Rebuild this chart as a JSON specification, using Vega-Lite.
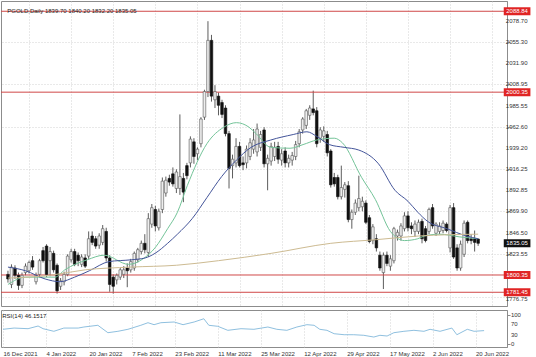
{
"$schema": "https://vega.github.io/schema/vega-lite/v6.json",
"padding": 0,
"background": "white",
"spacing": 2,
"config": {
 "font": "Liberation Sans",
 "view": {"stroke": "#8c8c8c", "strokeWidth": 1},
 "axis": {"labelFont": "Liberation Sans", "labelFontSize": 6, "labelColor": "#333333", "gridColor": "#c6c6c6", "gridDash": [1, 2], "gridWidth": 0.8, "domainColor": "#8c8c8c", "tickColor": "#8c8c8c", "title": null, "zindex": 0, "labelOverlap": false}
},
"datasets": {
 "bars": [
{"i":0,"o":1801,"h":1805,"l":1792,"c":1796},{"i":1,"o":1790,"h":1812,"l":1786,"c":1809},{"i":2,"o":1808,"h":1811,"l":1796,"c":1800},{"i":3,"o":1800,"h":1803,"l":1784,"c":1789},{"i":4,"o":1789,"h":1803,"l":1786,"c":1800},
{"i":5,"o":1803,"h":1813,"l":1800,"c":1810},{"i":6,"o":1805,"h":1816,"l":1802,"c":1814},{"i":7,"o":1816,"h":1821,"l":1806,"c":1809},{"i":8,"o":1793,"h":1803,"l":1790,"c":1800},{"i":9,"o":1801,"h":1818,"l":1798,"c":1816},
{"i":10,"o":1827,"h":1831,"l":1814,"c":1816},{"i":11,"o":1832,"h":1834,"l":1798,"c":1801},{"i":12,"o":1816,"h":1831,"l":1799,"c":1826},{"i":13,"o":1824,"h":1827,"l":1803,"c":1806},{"i":14,"o":1811,"h":1813,"l":1780,"c":1783},
{"i":15,"o":1788,"h":1797,"l":1784,"c":1794},{"i":16,"o":1793,"h":1804,"l":1789,"c":1801},{"i":17,"o":1801,"h":1823,"l":1799,"c":1821},{"i":18,"o":1817,"h":1829,"l":1814,"c":1826},{"i":19,"o":1826,"h":1829,"l":1810,"c":1812},
{"i":20,"o":1822,"h":1825,"l":1810,"c":1816},{"i":21,"o":1812,"h":1823,"l":1809,"c":1820},{"i":22,"o":1819,"h":1823,"l":1808,"c":1810},{"i":23,"o":1821,"h":1848,"l":1818,"c":1840},{"i":24,"o":1843,"h":1848,"l":1833,"c":1836},
{"i":25,"o":1840,"h":1843,"l":1829,"c":1832},{"i":26,"o":1833,"h":1846,"l":1829,"c":1843},{"i":27,"o":1836,"h":1855,"l":1833,"c":1851},{"i":28,"o":1848,"h":1852,"l":1815,"c":1819},{"i":29,"o":1819,"h":1822,"l":1782,"c":1790},
{"i":30,"o":1798,"h":1801,"l":1780,"c":1788},{"i":31,"o":1795,"h":1802,"l":1790,"c":1800},{"i":32,"o":1798,"h":1808,"l":1795,"c":1806},{"i":33,"o":1801,"h":1810,"l":1797,"c":1806},{"i":34,"o":1808,"h":1813,"l":1787,"c":1805},
{"i":35,"o":1806,"h":1818,"l":1803,"c":1815},{"i":36,"o":1808,"h":1826,"l":1805,"c":1824},{"i":37,"o":1817,"h":1830,"l":1814,"c":1828},{"i":38,"o":1826,"h":1838,"l":1823,"c":1835},{"i":39,"o":1835,"h":1845,"l":1824,"c":1828},
{"i":40,"o":1825,"h":1868,"l":1820,"c":1862},{"i":41,"o":1856,"h":1878,"l":1852,"c":1874},{"i":42,"o":1872,"h":1876,"l":1848,"c":1854},{"i":43,"o":1852,"h":1873,"l":1849,"c":1870},{"i":44,"o":1872,"h":1907,"l":1868,"c":1903},
{"i":45,"o":1890,"h":1908,"l":1886,"c":1904},{"i":46,"o":1906,"h":1910,"l":1898,"c":1902},{"i":47,"o":1911,"h":1918,"l":1897,"c":1900},{"i":48,"o":1895,"h":1916,"l":1890,"c":1913},{"i":49,"o":1895,"h":1976,"l":1888,"c":1908},
{"i":50,"o":1906,"h":1912,"l":1880,"c":1891},{"i":51,"o":1920,"h":1923,"l":1905,"c":1909},{"i":52,"o":1923,"h":1952,"l":1918,"c":1949},{"i":53,"o":1946,"h":1950,"l":1922,"c":1930},{"i":54,"o":1933,"h":1940,"l":1926,"c":1938},
{"i":55,"o":1944,"h":1973,"l":1940,"c":1971},{"i":56,"o":1973,"h":2003,"l":1970,"c":2001},{"i":57,"o":2001,"h":2078,"l":1995,"c":2057},{"i":58,"o":2057,"h":2063,"l":1990,"c":1996},{"i":59,"o":1992,"h":2008,"l":1983,"c":2001},
{"i":60,"o":1996,"h":2000,"l":1975,"c":1986},{"i":61,"o":1989,"h":1992,"l":1972,"c":1976},{"i":62,"o":1983,"h":1986,"l":1952,"c":1955},{"i":63,"o":1955,"h":1958,"l":1895,"c":1917},{"i":64,"o":1920,"h":1932,"l":1906,"c":1927},
{"i":65,"o":1923,"h":1950,"l":1918,"c":1941},{"i":66,"o":1941,"h":1946,"l":1918,"c":1920},{"i":67,"o":1923,"h":1930,"l":1915,"c":1921},{"i":68,"o":1923,"h":1942,"l":1917,"c":1938},{"i":69,"o":1930,"h":1950,"l":1926,"c":1945},
{"i":70,"o":1938,"h":1960,"l":1933,"c":1948},{"i":71,"o":1935,"h":1966,"l":1930,"c":1960},{"i":72,"o":1940,"h":1958,"l":1936,"c":1954},{"i":73,"o":1959,"h":1962,"l":1918,"c":1922},{"i":74,"o":1922,"h":1932,"l":1893,"c":1928},
{"i":75,"o":1925,"h":1945,"l":1920,"c":1941},{"i":76,"o":1930,"h":1946,"l":1925,"c":1940},{"i":77,"o":1941,"h":1946,"l":1922,"c":1927},{"i":78,"o":1926,"h":1938,"l":1920,"c":1933},{"i":79,"o":1936,"h":1940,"l":1918,"c":1923},
{"i":80,"o":1923,"h":1932,"l":1918,"c":1928},{"i":81,"o":1926,"h":1935,"l":1920,"c":1931},{"i":82,"o":1930,"h":1947,"l":1926,"c":1943},{"i":83,"o":1944,"h":1960,"l":1940,"c":1957},{"i":84,"o":1959,"h":1973,"l":1955,"c":1971},
{"i":85,"o":1964,"h":1982,"l":1960,"c":1980},{"i":86,"o":1975,"h":1986,"l":1970,"c":1983},{"i":87,"o":1982,"h":2002,"l":1975,"c":1978},{"i":88,"o":1980,"h":1984,"l":1940,"c":1944},{"i":89,"o":1950,"h":1962,"l":1945,"c":1959},
{"i":90,"o":1952,"h":1963,"l":1946,"c":1958},{"i":91,"o":1954,"h":1958,"l":1930,"c":1934},{"i":92,"o":1936,"h":1938,"l":1896,"c":1899},{"i":93,"o":1907,"h":1912,"l":1897,"c":1900},{"i":94,"o":1907,"h":1910,"l":1883,"c":1886},
{"i":95,"o":1886,"h":1920,"l":1883,"c":1896},{"i":96,"o":1894,"h":1902,"l":1885,"c":1899},{"i":97,"o":1898,"h":1903,"l":1858,"c":1861},{"i":98,"o":1861,"h":1872,"l":1851,"c":1869},{"i":99,"o":1869,"h":1883,"l":1866,"c":1879},
{"i":100,"o":1874,"h":1909,"l":1870,"c":1884},{"i":101,"o":1875,"h":1886,"l":1870,"c":1881},{"i":102,"o":1879,"h":1882,"l":1856,"c":1858},{"i":103,"o":1863,"h":1866,"l":1835,"c":1837},{"i":104,"o":1838,"h":1856,"l":1834,"c":1853},
{"i":105,"o":1840,"h":1845,"l":1826,"c":1830},{"i":106,"o":1822,"h":1826,"l":1805,"c":1808},{"i":107,"o":1803,"h":1825,"l":1785,"c":1822},{"i":108,"o":1822,"h":1826,"l":1810,"c":1813},{"i":109,"o":1810,"h":1822,"l":1805,"c":1818},
{"i":110,"o":1816,"h":1853,"l":1813,"c":1851},{"i":111,"o":1843,"h":1850,"l":1838,"c":1847},{"i":112,"o":1843,"h":1857,"l":1838,"c":1854},{"i":113,"o":1851,"h":1869,"l":1848,"c":1865},{"i":114,"o":1865,"h":1870,"l":1848,"c":1852},
{"i":115,"o":1854,"h":1858,"l":1845,"c":1851},{"i":116,"o":1848,"h":1860,"l":1842,"c":1856},{"i":117,"o":1848,"h":1861,"l":1845,"c":1858},{"i":118,"o":1859,"h":1862,"l":1835,"c":1840},{"i":119,"o":1851,"h":1854,"l":1836,"c":1838},
{"i":120,"o":1848,"h":1874,"l":1845,"c":1872},{"i":121,"o":1874,"h":1878,"l":1851,"c":1854},{"i":122,"o":1846,"h":1858,"l":1843,"c":1856},{"i":123,"o":1848,"h":1858,"l":1845,"c":1854},{"i":124,"o":1849,"h":1860,"l":1846,"c":1857},
{"i":125,"o":1856,"h":1858,"l":1847,"c":1849},{"i":126,"o":1830,"h":1877,"l":1825,"c":1874},{"i":127,"o":1874,"h":1879,"l":1818,"c":1820},{"i":128,"o":1830,"h":1834,"l":1805,"c":1808},{"i":129,"o":1808,"h":1838,"l":1805,"c":1834},
{"i":130,"o":1823,"h":1860,"l":1820,"c":1857},{"i":131,"o":1858,"h":1860,"l":1835,"c":1838},{"i":132,"o":1840,"h":1845,"l":1834,"c":1838},{"i":133,"o":1840,"h":1849,"l":1826,"c":1836},{"i":134,"o":1839.7,"h":1840.2,"l":1832.2,"c":1835.05}
 ],
 "ma": [
{"s":"g","i":0,"p":1790},{"s":"g","i":5,"p":1798},{"s":"g","i":13.4,"p":1798},{"s":"g","i":16.2,"p":1806},{"s":"g","i":22.6,"p":1817},{"s":"g","i":27.4,"p":1822},{"s":"g","i":34.4,"p":1812},{"s":"g","i":38.5,"p":1818},{"s":"g","i":41.9,"p":1830},{"s":"g","i":45.5,"p":1851},{"s":"g","i":48.3,"p":1869},{"s":"g","i":51.1,"p":1898},{"s":"g","i":56.7,"p":1944},{"s":"g","i":61.5,"p":1962},{"s":"g","i":65.1,"p":1967},{"s":"g","i":68.7,"p":1962},{"s":"g","i":70.7,"p":1955},{"s":"g","i":74.9,"p":1940},{"s":"g","i":80.4,"p":1939},{"s":"g","i":84.1,"p":1943},{"s":"g","i":88,"p":1948},{"s":"g","i":93,"p":1950},{"s":"g","i":95.3,"p":1945},{"s":"g","i":100.8,"p":1907},{"s":"g","i":104.7,"p":1883},{"s":"g","i":109,"p":1848},{"s":"g","i":113,"p":1838},{"s":"g","i":116.8,"p":1840},{"s":"g","i":118.7,"p":1843},{"s":"g","i":123,"p":1845},{"s":"g","i":128.8,"p":1842},{"s":"g","i":134,"p":1840},
{"s":"b","i":0,"p":1809},{"s":"b","i":5,"p":1805},{"s":"b","i":10.6,"p":1796},{"s":"b","i":14.8,"p":1793},{"s":"b","i":19,"p":1798},{"s":"b","i":23.2,"p":1805},{"s":"b","i":28.8,"p":1815},{"s":"b","i":35.2,"p":1817},{"s":"b","i":39.1,"p":1819},{"s":"b","i":41.9,"p":1824},{"s":"b","i":45.5,"p":1835},{"s":"b","i":48.3,"p":1845},{"s":"b","i":52.5,"p":1862},{"s":"b","i":56.7,"p":1885},{"s":"b","i":60.9,"p":1908},{"s":"b","i":65.1,"p":1926},{"s":"b","i":69.3,"p":1940},{"s":"b","i":74.9,"p":1948},{"s":"b","i":81.3,"p":1954},{"s":"b","i":85.2,"p":1957},{"s":"b","i":88,"p":1952},{"s":"b","i":91.6,"p":1943},{"s":"b","i":95.8,"p":1940},{"s":"b","i":100,"p":1937},{"s":"b","i":105.6,"p":1922},{"s":"b","i":110.3,"p":1893},{"s":"b","i":114,"p":1881},{"s":"b","i":116.8,"p":1869},{"s":"b","i":119.6,"p":1859},{"s":"b","i":125.1,"p":1851},{"s":"b","i":130.7,"p":1843},{"s":"b","i":134,"p":1840},
{"s":"t","i":0,"p":1797},{"s":"t","i":12,"p":1800},{"s":"t","i":22,"p":1806},{"s":"t","i":35,"p":1809},{"s":"t","i":48,"p":1811},{"s":"t","i":60,"p":1816},{"s":"t","i":75,"p":1824},{"s":"t","i":92,"p":1835},{"s":"t","i":105,"p":1839},{"s":"t","i":117,"p":1843},{"s":"t","i":134,"p":1845}
 ],
 "rsi": [
{"i":0,"r":50.7},{"i":3.1,"r":55},{"i":7,"r":52.8},{"i":9.8,"r":62},{"i":11.2,"r":52.8},{"i":14.2,"r":43.8},{"i":17,"r":55},{"i":21,"r":55},{"i":22.6,"r":58.6},{"i":26.5,"r":64.5},{"i":29.3,"r":39},{"i":32.1,"r":43.8},{"i":34.9,"r":50.7},{"i":38.5,"r":64.5},{"i":40.5,"r":73.4},{"i":42.2,"r":66.6},{"i":44.1,"r":73.4},{"i":47.8,"r":75.9},{"i":50.3,"r":66.6},{"i":53.4,"r":75.9},{"i":56.1,"r":87},{"i":57.5,"r":64.5},{"i":60,"r":61},{"i":62.8,"r":47.2},{"i":66.5,"r":52.8},{"i":70.1,"r":50.7},{"i":74,"r":58.6},{"i":76.5,"r":50.7},{"i":79.3,"r":47.2},{"i":82.1,"r":58.6},{"i":84.9,"r":66.6},{"i":86.9,"r":64.5},{"i":88.5,"r":50.7},{"i":90.5,"r":47.2},{"i":92.5,"r":35.5},{"i":95.3,"r":32},{"i":98,"r":32},{"i":100.8,"r":30},{"i":103.6,"r":24},{"i":105.3,"r":30},{"i":107.3,"r":27.6},{"i":109.2,"r":39},{"i":112,"r":43.8},{"i":114.8,"r":47.2},{"i":117.6,"r":43.8},{"i":119.3,"r":50.7},{"i":122.1,"r":43.8},{"i":125.4,"r":55},{"i":126.8,"r":32},{"i":129.7,"r":50.7},{"i":131.6,"r":43.8},{"i":134.4,"r":46.15}
 ],
 "levels": [
{"p":2088.84,"k":"r"},{"p":2000.35,"k":"r"},{"p":1800.35,"k":"r"},{"p":1781.45,"k":"r"},{"p":1835.05,"k":"b"}
 ],
 "yticks": [
{"p":2078.70},{"p":2055.30},{"p":2031.90},{"p":2008.95},{"p":1985.55},{"p":1962.60},{"p":1939.20},{"p":1916.25},{"p":1892.85},{"p":1869.90},{"p":1846.50},{"p":1823.55}
 ],
 "ybottom": [{"p":1776.75}],
 "rticks": [{"r":100},{"r":70},{"r":30},{"r":0}]
},
"vconcat": [
 {
  "width": 506,
  "height": 305,
  "layer": [
   {
    "data": {"name": "bars"},
    "mark": {"type": "rule", "color": "#333333", "strokeWidth": 0.8},
    "encoding": {
     "x": {"field": "i", "type": "quantitative", "scale": {"domain": [-0.56, 140.8], "nice": false, "zero": false},
       "axis": {"values": [6,12,18,24,30,36,42,48,54,60,66,72,78,84,90,96,102,108,114,120,126,132,138], "labels": false, "ticks": false, "domain": false, "grid": true}},
     "y": {"field": "l", "type": "quantitative", "scale": {"domain": [1771.9, 2094.6], "nice": false, "zero": false},
       "axis": {"orient": "right", "values": [2078.70, 2055.30, 2031.90, 2008.95, 1985.55, 1962.60, 1939.20, 1916.25, 1892.85, 1869.90, 1846.50, 1823.55, 1800.60, 1776.75], "labels": false, "tickSize": 3, "grid": true}},
     "y2": {"field": "h"}
    }
   },
   {
    "data": {"name": "levels"},
    "transform": [{"filter": "datum.k == 'r'"}],
    "mark": {"type": "rule", "color": "#d04848", "strokeWidth": 1},
    "encoding": {"y": {"field": "p", "type": "quantitative"}}
   },
   {
    "data": {"name": "bars"},
    "mark": {"type": "bar", "size": 2.6, "strokeWidth": 0.6},
    "encoding": {
     "x": {"field": "i", "type": "quantitative"},
     "y": {"field": "o", "type": "quantitative"},
     "y2": {"field": "c"},
     "fill": {"condition": {"test": "datum.c < datum.o", "value": "#111111"}, "value": "#eeeeee"},
     "stroke": {"condition": {"test": "datum.c < datum.o", "value": "#111111"}, "value": "#555555"}
    }
   },
   {
    "data": {"name": "ma"},
    "mark": {"type": "line", "strokeWidth": 1, "interpolate": "monotone"},
    "encoding": {
     "x": {"field": "i", "type": "quantitative"},
     "y": {"field": "p", "type": "quantitative"},
     "color": {"field": "s", "type": "nominal", "scale": {"domain": ["g", "b", "t"], "range": ["#74c499", "#44559a", "#cdbb92"]}, "legend": null}
    }
   },
   {
    "data": {"values": [{"t": "PGOLD,Daily  1839.70 1840.20 1832.20 1835.05"}]},
    "mark": {"type": "text", "align": "left", "baseline": "middle", "fontSize": 6, "color": "#222222"},
    "encoding": {"x": {"datum": -0.2}, "y": {"datum": 2089.5}, "text": {"field": "t"}}
   },
   {
    "data": {"name": "yticks"},
    "mark": {"type": "text", "align": "left", "baseline": "middle", "fontSize": 6, "color": "#333333"},
    "encoding": {
     "x": {"datum": 141.9},
     "y": {"field": "p", "type": "quantitative"},
     "text": {"field": "p", "type": "quantitative", "format": ".2f"}
    }
   },
   {
    "data": {"name": "ybottom"},
    "mark": {"type": "text", "align": "left", "baseline": "top", "fontSize": 6, "color": "#333333", "dy": -1},
    "encoding": {
     "x": {"datum": 141.9},
     "y": {"field": "p", "type": "quantitative"},
     "text": {"field": "p", "type": "quantitative", "format": ".2f"}
    }
   },
   {
    "data": {"name": "levels"},
    "mark": {"type": "bar", "orient": "horizontal", "size": 8},
    "encoding": {
     "x": {"datum": 141.3},
     "x2": {"datum": 148.9},
     "y": {"field": "p", "type": "quantitative"},
     "color": {"condition": {"test": "datum.k == 'r'", "value": "#e02424"}, "value": "#111111"}
    }
   },
   {
    "data": {"name": "levels"},
    "mark": {"type": "text", "align": "center", "baseline": "middle", "fontSize": 6, "color": "white"},
    "encoding": {
     "x": {"datum": 145.1},
     "y": {"field": "p", "type": "quantitative"},
     "text": {"field": "p", "type": "quantitative", "format": ".2f"}
    }
   }
  ]
 },
 {
  "width": 506,
  "height": 37,
  "layer": [
   {
    "data": {"name": "rsi"},
    "mark": {"type": "line", "color": "#8fc0df", "strokeWidth": 1},
    "encoding": {
     "x": {"field": "i", "type": "quantitative", "scale": {"domain": [-0.56, 140.8], "nice": false, "zero": false},
       "axis": {"values": [0,6,12,18,24,30,36,42,48,54,60,66,72,78,84,90,96,102,108,114,120,126,132,138], "grid": true, "ticks": false, "domain": false, "labelAlign": "left", "labelFlush": false, "labelOverlap": false, "labelBound": false, "labelPadding": 3,
         "labelExpr": "datum.value % 12 == 0 ? ['16 Dec 2021','4 Jan 2022','20 Jan 2022','7 Feb 2022','23 Feb 2022','11 Mar 2022','25 Mar 2022','12 Apr 2022','29 Apr 2022','17 May 2022','2 Jun 2022','20 Jun 2022'][datum.value / 12] : ''"}},
     "y": {"field": "r", "type": "quantitative", "scale": {"domain": [-10.3, 117.2], "nice": false, "zero": false},
       "axis": {"orient": "right", "values": [0, 30, 70, 100], "labels": false, "tickSize": 3, "grid": true,
         "gridOpacity": {"condition": {"test": "datum.value == 30 || datum.value == 70", "value": 1}, "value": 0}}}
    }
   },
   {
    "data": {"name": "rticks"},
    "mark": {"type": "text", "align": "left", "baseline": "middle", "fontSize": 6, "color": "#333333"},
    "encoding": {
     "x": {"datum": 141.9},
     "y": {"field": "r", "type": "quantitative"},
     "text": {"field": "r", "type": "quantitative", "format": "d"}
    }
   },
   {
    "data": {"values": [{"t": "RSI(14) 46.1517"}]},
    "mark": {"type": "text", "align": "left", "baseline": "middle", "fontSize": 6, "color": "#222222"},
    "encoding": {"x": {"datum": -0.2}, "y": {"datum": 96}, "text": {"field": "t"}}
   }
  ]
 }
]
}
